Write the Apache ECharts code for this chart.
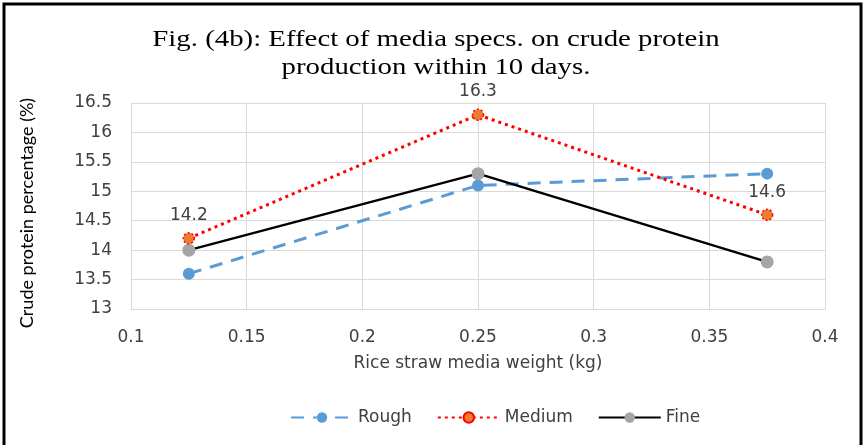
<!DOCTYPE html>
<html>
<head>
<meta charset="utf-8">
<script src="https://cdn.jsdelivr.net/npm/echarts@6/dist/echarts.min.js"></script>
<style>
  html, body { margin: 0; padding: 0; background: #fff; }
  #chart { width: 865px; height: 445px; }
</style>
</head>
<body>
<div id="chart"></div>
<script>
// Media weight (kg) used for each sample
const weights = [0.125, 0.25, 0.375];

// Crude protein percentage per media texture
const rough = [13.6, 15.1, 15.3];
const medium = [14.2, 16.3, 14.6];
const fine = [14.0, 15.3, 13.8];

const seriesNames = ['Rough', 'Medium', 'Fine'];
const titleText = 'Fig. (4b): Effect of media specs. on crude protein\nproduction within 10 days.';

const pairs = vals => weights.map((w, i) => [w, vals[i]]);

const sansWide = '"DejaVu Sans", "Noto Sans", sans-serif';
const textGrey = '#404040';

const chart = echarts.init(document.getElementById('chart'));
chart.setOption({
  animation: false,
  backgroundColor: '#ffffff',
  graphic: [
    {
      type: 'rect',
      shape: { x: 4, y: 4, width: 857, height: 470 },
      style: { fill: 'none', stroke: '#000', lineWidth: 3 },
      silent: true
    },
    {
      // wide serif heading, stretched horizontally
      type: 'text',
      x: 436,
      y: 26,
      scaleX: 1.2,
      style: {
        text: titleText,
        font: '24px "Liberation Serif", "DejaVu Serif", serif',
        lineHeight: 28,
        fill: '#000',
        align: 'center',
        verticalAlign: 'top'
      },
      silent: true
    }
  ],
  grid: { left: 131, right: 40, top: 103, bottom: 136 },
  legend: {
    data: seriesNames,
    top: 404,
    left: 285,
    itemWidth: 62,
    itemHeight: 13,
    itemGap: 25,
    textStyle: { fontFamily: sansWide, fontSize: 17, color: textGrey }
  },
  xAxis: {
    type: 'value',
    min: 0.1,
    max: 0.4,
    interval: 0.05,
    name: 'Rice straw media weight (kg)',
    nameLocation: 'middle',
    nameGap: 46,
    nameTextStyle: { fontFamily: sansWide, fontSize: 17, color: textGrey },
    axisLine: { show: true, lineStyle: { color: '#d9d9d9' } },
    axisTick: { show: false },
    splitLine: { show: true, lineStyle: { color: '#d9d9d9', width: 1 } },
    axisLabel: {
      margin: 20,
      fontFamily: sansWide, fontSize: 17, color: textGrey,
      formatter: v => String(Math.round(v * 100) / 100)
    }
  },
  yAxis: {
    type: 'value',
    min: 13,
    max: 16.5,
    interval: 0.5,
    name: 'Crude protein percentage (%)',
    nameLocation: 'middle',
    nameGap: 95,
    nameTextStyle: {
      fontFamily: 'Lato, "Noto Sans", sans-serif',
      fontSize: 18,
      color: '#000',
      padding: [0, 14, 0, 0]
    },
    axisLine: { show: true, lineStyle: { color: '#d9d9d9' } },
    axisTick: { show: false },
    splitLine: { show: true, lineStyle: { color: '#d9d9d9', width: 1 } },
    axisLabel: { margin: 19, fontFamily: sansWide, fontSize: 17, color: textGrey }
  },
  series: [
    {
      name: 'Rough',
      type: 'line',
      data: pairs(rough),
      symbol: 'circle',
      symbolSize: 12,
      itemStyle: { color: '#5b9bd5' },
      lineStyle: { color: '#5b9bd5', width: 3, type: [13, 9] },
      z: 2
    },
    {
      name: 'Medium',
      type: 'line',
      data: pairs(medium),
      symbol: 'circle',
      symbolSize: 11,
      itemStyle: { color: '#ed7d31', borderColor: '#ff0000', borderWidth: 1.5, borderType: [2, 2] },
      lineStyle: { color: '#ff0000', width: 3, type: [3, 4] },
      label: {
        show: true,
        position: 'top',
        distance: 8,
        fontFamily: sansWide,
        fontSize: 17,
        color: textGrey
      },
      z: 4
    },
    {
      name: 'Fine',
      type: 'line',
      data: pairs(fine),
      symbol: 'circle',
      symbolSize: 13,
      itemStyle: { color: '#a5a5a5' },
      lineStyle: { color: '#000000', width: 2.5 },
      z: 3
    }
  ]
});
</script>
</body>
</html>
